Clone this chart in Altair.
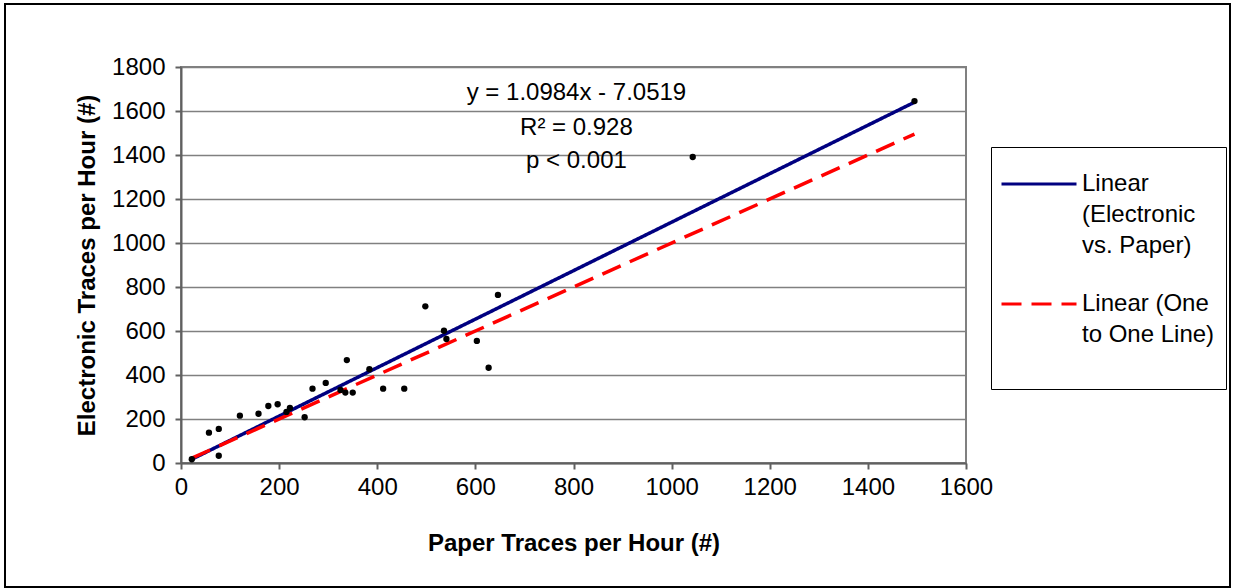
import altair as alt
import pandas as pd

# Scatter data (paper vs electronic traces per hour)
paper = [22, 57, 77, 77, 120, 158, 178, 197, 215, 222, 252, 268, 295, 325, 335,
         338, 350, 384, 412, 455, 498, 536, 541, 603, 627, 646, 1043, 1495]
electronic = [17, 138, 155, 33, 215, 224, 259, 267, 232, 250, 208, 338, 364, 332, 320,
              468, 320, 426, 338, 338, 712, 601, 564, 555, 433, 764, 1391, 1645]

# Trend lines (end points)
series_names = ["Linear (Electronic vs. Paper)", "Linear (One to One Line)"]
line_x = [22, 1495, 22, 1495]
line_y = [17, 1640, 22, 1495]
line_series = [series_names[0], series_names[0], series_names[1], series_names[1]]

# Annotation
note_text = ["y = 1.0984x - 7.0519", "R² = 0.928", "p < 0.001"]
note_x = [806, 806, 806]
note_y = [1682, 1523, 1373]

x_ticks = [0, 200, 400, 600, 800, 1000, 1200, 1400, 1600]
y_ticks = [0, 200, 400, 600, 800, 1000, 1200, 1400, 1600, 1800]

FONT = "Liberation Sans"
FS = 24

pts = pd.DataFrame({"paper": paper, "electronic": electronic})
lines = pd.DataFrame({"paper": line_x, "electronic": line_y, "series": line_series})
notes = pd.DataFrame({"paper": note_x, "electronic": note_y, "text": note_text})

xscale = alt.Scale(domain=[0, 1600], nice=False, zero=False)
yscale = alt.Scale(domain=[0, 1800], nice=False, zero=False)

xaxis = alt.Axis(values=x_ticks, format="d", title="Paper Traces per Hour (#)", grid=False,
                 tickSize=6, labelPadding=6, titlePadding=32, labelFlush=False)
yaxis = alt.Axis(values=y_ticks, format="d", title="Electronic Traces per Hour (#)", grid=True,
                 tickSize=6, labelPadding=10, titlePadding=12, labelFlush=False)

border = alt.Chart(pd.DataFrame({"a": [0]})).mark_rect(
    filled=False, stroke="black", strokeWidth=2
).encode(x=alt.value(-176), x2=alt.value(1049), y=alt.value(-63), y2=alt.value(520))

label_expr = ("datum.label == 'Linear (Electronic vs. Paper)' ? "
              "['Linear', '(Electronic', 'vs. Paper)'] : ['Linear (One', 'to One Line)', '']")

# long flat stroke symbol, lowered to sit on the first label line
legend = alt.Legend(title=None, orient="none", legendX=810, legendY=80,
                    labelExpr=label_expr, symbolType="M-3,0.96H3",
                    symbolSize=625, symbolStrokeWidth=3, symbolOffset=23,
                    labelFontSize=FS, labelFont=FONT, labelColor="black",
                    strokeColor="black", fillColor="white", padding=11,
                    rowPadding=20, labelOffset=29, labelBaseline="top")

line_chart = alt.Chart(lines).mark_line(strokeWidth=3.5).encode(
    x=alt.X("paper:Q", scale=xscale, axis=xaxis),
    y=alt.Y("electronic:Q", scale=yscale, axis=yaxis),
    color=alt.Color("series:N", scale=alt.Scale(domain=series_names, range=["#000080", "#FF0000"]),
                    legend=legend),
    strokeDash=alt.StrokeDash("series:N", scale=alt.Scale(domain=series_names, range=[[1, 0], [20, 10]]),
                              legend=legend),
    detail="series:N",
)

point_chart = alt.Chart(pts).mark_circle(size=40, color="black", opacity=1).encode(
    x=alt.X("paper:Q", scale=xscale),
    y=alt.Y("electronic:Q", scale=yscale),
)

note_chart = alt.Chart(notes).mark_text(fontSize=FS, font=FONT, color="black", align="center",
                                        baseline="middle").encode(
    x=alt.X("paper:Q", scale=xscale),
    y=alt.Y("electronic:Q", scale=yscale),
    text="text:N",
)

chart = alt.layer(border, line_chart, point_chart, note_chart).properties(
    width=785, height=396,
    autosize=alt.AutoSizeParams(type="none"),
    padding={"left": 181, "top": 67, "right": 267, "bottom": 125},
    background="white",
).configure(
    style={"guide-label": {"lineHeight": 31}}
).configure_view(stroke="#808080", strokeWidth=2).configure_axis(
    labelFont=FONT, labelFontSize=FS, labelColor="black",
    titleFont=FONT, titleFontSize=FS, titleFontWeight="bold", titleColor="black",
    domainColor="#606060", domainWidth=2, tickColor="#606060", tickWidth=2,
    gridColor="#808080", gridWidth=1.5,
)

chart.save("out.html", embed_options={"renderer": "svg", "actions": False})
